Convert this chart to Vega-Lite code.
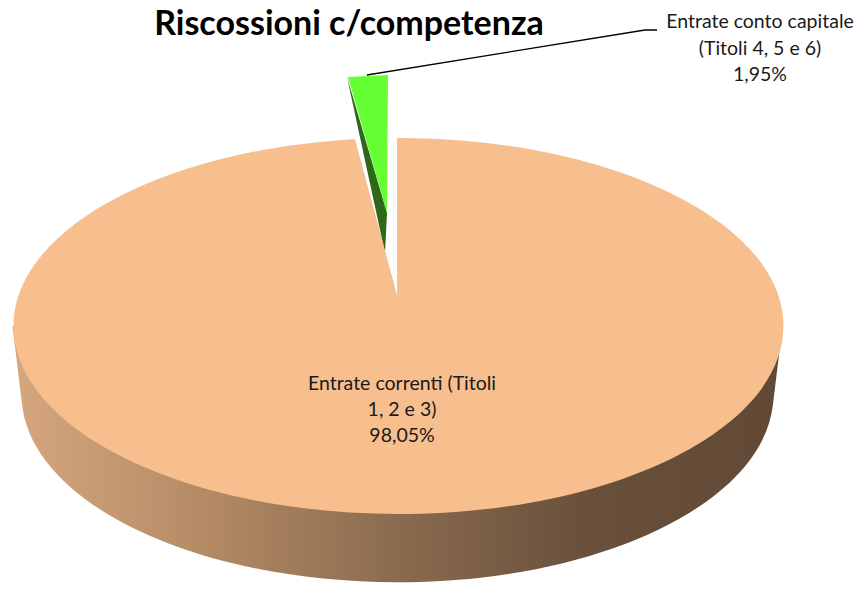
{
  "$schema": "https://vega.github.io/schema/vega-lite/v6.json",
  "width": 864,
  "height": 597,
  "autosize": {"type": "fit", "contains": "padding"},
  "padding": 0,
  "background": "white",
  "config": {"view": {"stroke": null}, "font": "Lato"},
  "data": {"values": [
    {"categoria": "Entrate correnti (Titoli 1, 2 e 3)", "quota": 98.05, "etichetta": "Entrate correnti (Titoli\n1, 2 e 3)\n98,05%", "titolo": "Riscossioni c/competenza"},
    {"categoria": "Entrate conto capitale (Titoli 4, 5 e 6)", "quota": 1.95, "etichetta": "Entrate conto capitale\n(Titoli 4, 5 e 6)\n1,95%", "titolo": "Riscossioni c/competenza"}
  ]},
  "layer": [
    {
      "transform": [{"filter": "datum.quota > 50"}],
      "mark": {"type": "point", "shape": "M -419.5 27.5 L -410 105.5 A 376 188 0 0 0 341 105.5 L 350.5 27.5 Z", "size": 4, "filled": true, "opacity": 1, "strokeWidth": 0,
        "fill": {"gradient": "linear", "x1": 0, "y1": 0, "x2": 1, "y2": 0, "stops": [
          {"offset": 0, "color": "#d6a77e"},
          {"offset": 0.25, "color": "#b48a65"},
          {"offset": 0.5, "color": "#8a6b4f"},
          {"offset": 0.75, "color": "#68503b"},
          {"offset": 1, "color": "#624936"}
        ]}},
      "encoding": {}
    },
    {
      "transform": [{"filter": "datum.quota < 50"}],
      "mark": {"type": "point", "shape": "M -85 -221.5 L -45 -85.5 L -47 -45.5 Z", "size": 4, "filled": true, "opacity": 1, "strokeWidth": 0, "fill": "#2d6919"},
      "encoding": {}
    },
    {
      "transform": [{"filter": "datum.quota < 50"}],
      "mark": {"type": "point", "shape": "M -84 -221.5 L -44 -223.5 L -45 -85.5 Z", "size": 4, "filled": true, "opacity": 1, "strokeWidth": 0, "fill": "#66ff33"},
      "encoding": {}
    },
    {
      "transform": [{"filter": "datum.quota > 50"}],
      "mark": {"type": "point", "shape": "M -35 -3.5 L -77 -159.3 A 385 188 0 1 0 -35 -160.5 Z", "size": 4, "filled": true, "opacity": 1, "strokeWidth": 0, "fill": "#f7be8e"},
      "encoding": {}
    },
    {
      "transform": [{"filter": "datum.quota < 50"}],
      "mark": {"type": "point", "shape": "M -65 -223.5 L 213 -268.5 L 225 -268.5", "size": 4, "filled": false, "opacity": 1, "stroke": "black", "strokeWidth": 1.3},
      "encoding": {}
    },
    {
      "transform": [{"filter": "datum.quota > 50"}],
      "mark": {"type": "text", "lineBreak": "\n", "dx": -30, "dy": 85.5, "fontSize": 19.5, "font": "Lato", "align": "center", "baseline": "middle", "lineHeight": 26, "color": "#1a1a1a"},
      "encoding": {"text": {"field": "etichetta"}}
    },
    {
      "transform": [{"filter": "datum.quota < 50"}],
      "mark": {"type": "text", "lineBreak": "\n", "dx": 328, "dy": -276.5, "fontSize": 19.5, "font": "Lato", "align": "center", "baseline": "middle", "lineHeight": 26.5, "color": "#1a1a1a"},
      "encoding": {"text": {"field": "etichetta"}}
    },
    {
      "transform": [{"filter": "datum.quota > 50"}],
      "mark": {"type": "text", "dx": -83, "dy": -263.5, "fontSize": 34, "fontWeight": "bold", "font": "Lato", "align": "center", "baseline": "alphabetic", "color": "black"},
      "encoding": {"text": {"field": "titolo"}}
    }
  ]
}
